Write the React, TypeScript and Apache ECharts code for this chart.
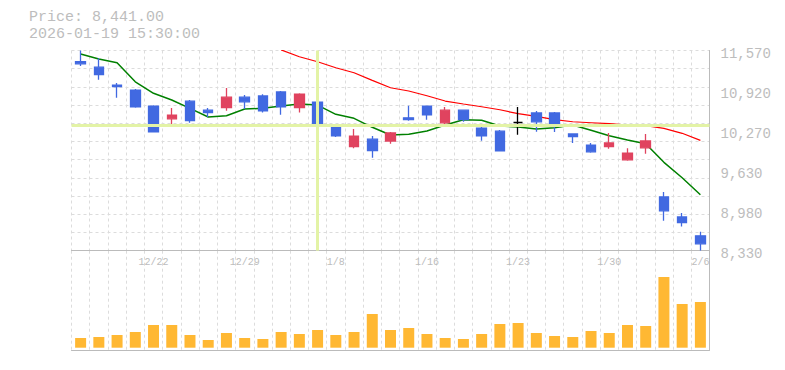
import React, { useEffect, useRef } from "react";
import * as echarts from "echarts";

// ---- data ----
const dates = [
  "12/16", "12/17", "12/18", "12/19", "12/22", "12/23", "12/24", "12/25", "12/26",
  "12/29", "12/30", "1/5", "1/6", "1/7", "1/8", "1/9", "1/13", "1/14", "1/15", "1/16",
  "1/19", "1/20", "1/21", "1/22", "1/23", "1/26", "1/27", "1/28", "1/29", "1/30",
  "2/2", "2/3", "2/4", "2/5", "2/6",
];
const opens = [11390, 11300, 11010, 10930, 10670, 10465, 10750, 10605, 10645, 10815, 10835, 10900, 10645, 10735, 10350, 10015, 10135, 10105, 10480, 10670, 10400, 10605, 10315, 10265, 10405, 10560, 10560, 10220, 10040, 10015, 9800, 9995, 9200, 8875, 8570];
const closes = [11355, 11180, 10985, 10660, 10255, 10525, 10435, 10565, 10815, 10740, 10595, 10660, 10865, 10355, 10190, 10185, 9950, 10235, 10450, 10530, 10605, 10450, 10190, 9945, 10405, 10415, 10380, 10175, 9930, 10075, 9910, 10105, 8975, 8785, 8441];
const highs = [11570, 11445, 11045, 10945, 10685, 10640, 10770, 10640, 10965, 10850, 10860, 10915, 10880, 10750, 10380, 10300, 10185, 10250, 10675, 10670, 10655, 10605, 10370, 10285, 10655, 10590, 10575, 10220, 10075, 10235, 9990, 10220, 9280, 8940, 8635];
const lows = [11320, 11095, 10805, 10645, 10255, 10335, 10400, 10495, 10595, 10625, 10565, 10530, 10565, 10295, 10170, 9990, 9835, 10060, 10435, 10450, 10355, 10415, 10110, 9945, 10205, 10255, 10250, 10075, 9915, 9980, 9785, 9900, 8815, 8720, 8333];
const ma5 = [11513, 11432, 11372, 11064, 10877, 10768, 10634, 10493, 10514, 10623, 10634, 10671, 10704, 10687, 10537, 10472, 10327, 10202, 10213, 10267, 10364, 10450, 10440, 10348, 10331, 10299, 10320, 10364, 10278, 10191, 10121, 10061, 9760, 9511, 9236];
const ma25 = [null, null, null, null, null, null, null, null, null, null, null, 11580, 11469, 11388, 11291, 11210, 11087, 10967, 10914, 10838, 10752, 10704, 10660, 10611, 10547, 10505, 10450, 10417, 10401, 10385, 10364, 10353, 10310, 10230, 10116];
const volumes = [970, 1070, 1270, 1570, 2270, 2270, 1270, 770, 1470, 970, 870, 1570, 1370, 1770, 1270, 1570, 3370, 1770, 1970, 1370, 970, 870, 1370, 2370, 2470, 1470, 1170, 1070, 1670, 1470, 2270, 2170, 7070, 4370, 4570];
const priceMin = 8330;
const priceMax = 11570;
const priceStep = 648;
const crossDate = "1/7";
const crossPrice = 10360;
const headerPrice = "Price: 8,441.00";
const headerTime = "2026-01-19 15:30:00";

const MONO = '"Liberation Mono", "DejaVu Sans Mono", monospace';
const GRID_DASH = { color: "#dcdcdc", width: 1, type: [3, 3] as any };
const AXIS_COLOR = "#bbbbbb";
const TEXT_COLOR = "#bdbdbd";

export default function App() {
  const ref = useRef<HTMLDivElement>(null);
  useEffect(() => {
    document.body.style.margin = "0";
    if (!ref.current) return;
    const chart = echarts.init(ref.current, undefined, { renderer: "svg" });
    const candles = dates.map((_, i) => [opens[i], closes[i], lows[i], highs[i]]);
    chart.setOption({
      animation: false,
      backgroundColor: "#ffffff",
      graphic: [
        { type: "text", left: 29, top: 10, style: { text: headerPrice, fill: TEXT_COLOR, font: `15px ${MONO}` } },
        { type: "text", left: 29, top: 27, style: { text: headerTime, fill: TEXT_COLOR, font: `15px ${MONO}` } },
      ],
      grid: [
        { left: 71.5, right: 75.5, top: 50.5, height: 200.2 },
        { left: 71.5, right: 75.5, top: 250.7, height: 99.3 },
      ],
      xAxis: [
        {
          type: "category", gridIndex: 0, data: dates, boundaryGap: true,
          axisLine: { show: true, onZero: false, lineStyle: { color: AXIS_COLOR, width: 1 } },
          axisTick: { show: false },
          axisLabel: {
            interval: (idx: number) => idx % 5 === 4,
            color: TEXT_COLOR, fontFamily: MONO, fontSize: 10, margin: 7,
          },
          splitLine: { show: true, interval: 0, lineStyle: GRID_DASH },
        },
        {
          type: "category", gridIndex: 1, data: dates, boundaryGap: true,
          axisLine: { show: true, onZero: false, lineStyle: { color: AXIS_COLOR, width: 1 } },
          axisTick: { show: false },
          axisLabel: { show: false },
          splitLine: { show: true, interval: 0, lineStyle: GRID_DASH },
        },
      ],
      yAxis: [
        {
          type: "value", gridIndex: 0, position: "right", min: priceMin, max: priceMax, interval: priceStep,
          axisLine: { show: true, lineStyle: { color: AXIS_COLOR, width: 1 } },
          axisTick: { show: false },
          splitLine: { show: false },
          axisLabel: {
            color: TEXT_COLOR, fontFamily: MONO, fontSize: 14, margin: 11,
            verticalAlign: "top", lineHeight: 6,
            formatter: (v: number) => (Math.round(v / 10) * 10).toLocaleString("en-US"),
          },
        },
        {
          type: "value", gridIndex: 0, position: "left", min: 0, max: 11, interval: 1,
          axisLine: { show: false }, axisTick: { show: false }, axisLabel: { show: false },
          splitLine: { show: true, lineStyle: GRID_DASH },
        },
        {
          type: "value", gridIndex: 1, position: "right", min: -230, max: 9700,
          axisLine: { show: true, lineStyle: { color: AXIS_COLOR, width: 1 } },
          axisTick: { show: false }, axisLabel: { show: false }, splitLine: { show: false },
        },
      ],
      series: [
        {
          type: "line", xAxisIndex: 0, yAxisIndex: 0, data: [], z: 1, silent: true,
          markLine: {
            silent: true, symbol: "none", animation: false,
            label: { show: false },
            lineStyle: { color: "#e3f3a6", width: 3, type: "solid" },
            data: [{ xAxis: crossDate }, { yAxis: crossPrice }],
          },
        },
        {
          name: "MA25", type: "line", xAxisIndex: 0, yAxisIndex: 0, data: ma25, z: 2,
          showSymbol: false, symbol: "none", lineStyle: { color: "#ff0000", width: 1.2 },
        },
        {
          name: "MA5", type: "line", xAxisIndex: 0, yAxisIndex: 0, data: ma5, z: 2,
          showSymbol: false, symbol: "none", lineStyle: { color: "#008000", width: 1.5 },
        },
        {
          type: "candlestick", xAxisIndex: 0, yAxisIndex: 0, data: candles, z: 3, barWidth: 10,
          itemStyle: {
            color: "#e0435f", color0: "#4169e1",
            borderColor: "#e0435f", borderColor0: "#4169e1", borderColorDoji: "#000000",
            borderWidth: 1.3,
          },
        },
        {
          type: "bar", xAxisIndex: 1, yAxisIndex: 2, data: volumes, barWidth: 11,
          itemStyle: { color: "#ffb833" },
        },
      ],
    });
    return () => chart.dispose();
  }, []);
  return <div ref={ref} style={{ width: 785, height: 370 }} />;
}
